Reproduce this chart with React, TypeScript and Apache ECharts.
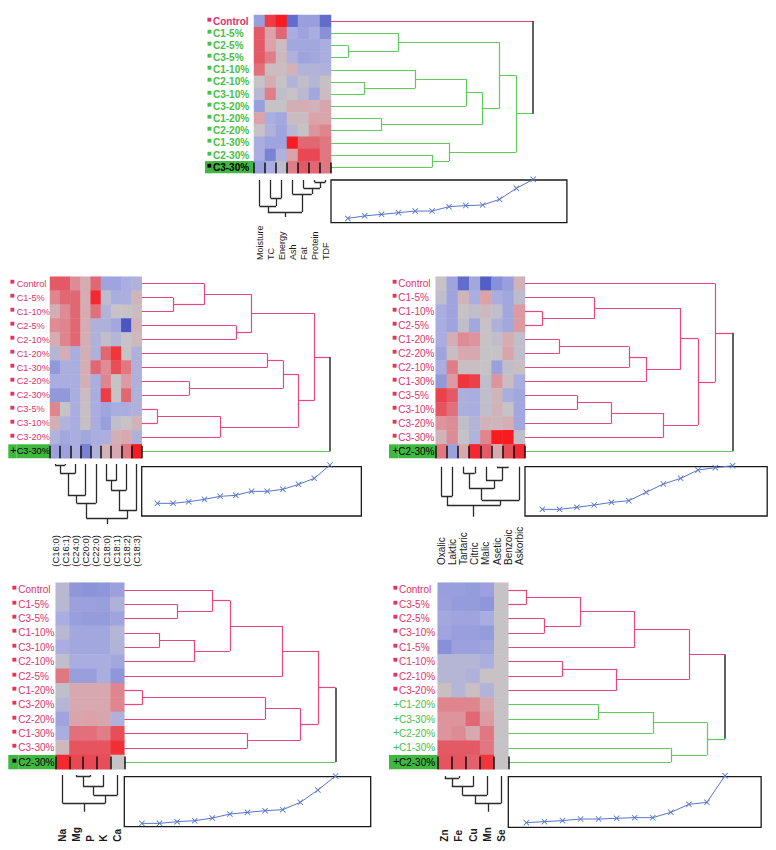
import React, { useEffect, useRef } from "react";
import * as echarts from "echarts";

const FONT = "Liberation Sans, Arial, sans-serif";
const PINK = "#e2336b";
const GREEN = "#46c046";
const LINE_PINK = "#e8467c";
const LINE_GREEN = "#5ccc5c";
const ROOT = "#3a3a3a";
const HIGHLIGHT = "#3fb83f";
const DIST_BLUE = "#5676c8";
const COL_TREE = "#2a2a2a";

// ---------------- Panel 1 : proximate composition ----------------
const P1_ROWS = ["Control", "C1-5%", "C2-5%", "C3-5%", "C1-10%", "C2-10%", "C3-10%", "C3-20%", "C1-20%", "C2-20%", "C1-30%", "C2-30%", "C3-30%"];
const P1_GROUPS = ["p", "g", "g", "g", "g", "g", "g", "g", "g", "g", "g", "g", "g"];
const P1_MARKS = ["■", "■", "■", "■", "■", "■", "■", "■", "■", "■", "■", "■", "■"];
const P1_HIGHLIGHT = 12;
const P1_COLS = ["Moisture", "TC", "Energy", "Ash", "Fat", "Protein", "TDF"];
const P1_VALUES = [
  [-1.5, 2.5, 3, -2.5, -1.5, -1.5, -2.5],
  [2, 1, 1.8, -1, -1.3, -1, -2],
  [2, 1, 0.2, -1.2, -1.2, -1.2, -1],
  [2, 1.5, 0.3, -0.8, -1.3, -1.2, -1],
  [1.7, 0.2, 0.2, 0.5, -0.7, -0.7, -0.8],
  [0, 0.7, 0, -0.7, -0.2, -0.6, 0.1],
  [-0.5, 1.5, -0.2, 0, -0.5, -1.2, 0.2],
  [-1.5, 0, 0, 0.6, 0.6, 0.5, 0.9],
  [1, -1, -1.2, 0.2, 0.2, 1, 0.9],
  [0, -0.8, -1.3, -0.5, 0, 1.2, 1.4],
  [-1, -1.3, -1.3, 3, 1.8, 1.8, 1.6],
  [-1, -2.2, -0.8, 1, 2.3, 2.3, 1.6],
  [-1.5, -1, -0.3, 1.5, 2, 1.8, 1.6],
];
const P1_ROW_MERGES = [[-3, -4], [-6, -7], [-9, -10], [-2, 1], [-5, 2], [-12, -13], [-11, 6], [5, -8], [8, 3], [4, 9], [10, 7], [-1, 11]];
const P1_COL_MERGES = [[-6, -7], [-5, 1], [-4, 2], [-2, -3], [-1, 4], [5, 3]];
const P1_COL_HEIGHTS = [2, 8, 14, 18, 26, 32];
const P1_COL_STEM = 37;
const P1_DIST = [10, 16, 19.5, 23.4, 27.3, 27.3, 37.5, 40, 41.4, 54.7, 80.5, 101.6];

// ---------------- Panel 2 : fatty acids ----------------
const P2_ROWS = ["Control", "C1-5%", "C1-10%", "C2-5%", "C2-10%", "C1-20%", "C1-30%", "C2-20%", "C2-30%", "C3-5%", "C3-10%", "C3-20%", "C3-30%"];
const P2_GROUPS = ["p", "p", "p", "p", "p", "p", "p", "p", "p", "p", "p", "p", "g"];
const P2_MARKS = ["■", "■", "■", "■", "■", "■", "■", "■", "■", "■", "■", "■", "+"];
const P2_HIGHLIGHT = 12;
const P2_COLS = ["(C16:0)", "(C16:1)", "(C24:0)", "(C20:0)", "(C22:0)", "(C18:0)", "(C18:1)", "(C18:2)", "(C18:3)"];
const P2_VALUES = [
  [2, 2, 1.3, 0.7, 1.8, -1.3, -1.3, -1, -0.8],
  [1.4, 1.8, 1.8, 0.7, 2.8, -0.3, -1, -0.9, 0.4],
  [0.6, 1.3, 1.8, 0.7, 1.7, -0.7, 0, 0, 0.2],
  [1.3, 1.4, 1.8, 0.7, -0.8, -0.8, -1.2, -2.8, 0.5],
  [0.7, 1.4, 1.8, 0.6, -0.8, -0.2, -0.6, 0, 0.3],
  [-0.6, 0.6, -1, 0.6, -0.8, 1.8, 2.6, 0, -0.8],
  [-1.7, -0.9, -1, 0.6, 1.8, 1.3, 2.2, 1.6, -0.8],
  [-1, -1, -1, 0.6, -1, 1.4, 0, 1.1, -0.8],
  [-1.7, -1.7, -1, 0.2, -1, 2.5, 0, 1.8, -0.8],
  [1.4, 0, -1, 0.1, -1, -1.3, -1, -1, -0.8],
  [0.6, -0.7, -1, 0.1, -1, -1.5, -0.2, 0, 0.5],
  [-0.7, -1.2, -1, -1.2, -1, -0.9, 0.6, 0.8, -0.8],
  [-1.4, -1.4, -0.9, -2.2, -0.8, 0.5, 0.8, 1.6, 3],
];
const P2_ROW_MERGES = [[-10, -11], [-2, -3], [-8, -9], [-1, 2], [1, -12], [-4, -5], [4, 6], [-6, -7], [8, 3], [9, 5], [7, 10], [11, -13]];
const P2_COL_MERGES = [[-1, -2], [1, -3], [-6, -7], [3, -8], [2, -4], [5, -5], [4, -9], [6, 7]];
const P2_COL_HEIGHTS = [1, 9.3, 16.7, 26, 31, 39.3, 46.7, 54.3];
const P2_COL_STEM = 60;
const P2_DIST = [25.7, 25.7, 29.1, 33.8, 39.9, 41.9, 50, 50, 54.1, 64.2, 76.4, 103.4];

// ---------------- Panel 3 : organic acids ----------------
const P3_ROWS = ["Control", "C1-5%", "C1-10%", "C2-5%", "C1-20%", "C2-20%", "C2-10%", "C1-30%", "C3-5%", "C3-10%", "C3-20%", "C3-30%", "C2-30%"];
const P3_GROUPS = ["p", "p", "p", "p", "p", "p", "p", "p", "p", "p", "p", "p", "g"];
const P3_MARKS = ["■", "■", "■", "■", "■", "■", "■", "■", "■", "■", "■", "■", "+"];
const P3_HIGHLIGHT = 12;
const P3_COLS = ["Oxalic", "Laktic", "Tartaric", "Citric", "Malic", "Asetic", "Benzoic", "Askorbic"];
const P3_VALUES = [
  [0, -1.3, -2.5, -1.2, -2.7, -2, -1.5, 0.5],
  [-0.2, -1.3, 0.4, -1, 1, -1, -1.2, -0.3],
  [-1, -1.3, 0, -0.2, 0.3, -0.2, -1.2, 1.1],
  [-1, -1.3, -0.2, -1.2, 0, -0.8, -1.2, 1.1],
  [-1, 0.6, 1.3, 1.2, 0, -0.2, 0.7, -0.2],
  [-1.3, 0.2, 0.8, 0.8, 0, 0, 0.9, -0.2],
  [-1, 1.5, 0.1, 0.1, 0, -1.4, -0.2, 0.1],
  [-1.7, 1.1, 2.6, 2.4, -0.2, 1.2, 0.2, -1],
  [2.4, 2, -0.9, -1, -0.2, 0.4, -1, -1.2],
  [2.1, 1.7, -0.9, -1, -0.2, 0.5, 0, -1.2],
  [1.2, 1.3, -0.2, -0.7, 0.5, 0.4, 0.6, -1.2],
  [0.5, 1.3, 0, -0.7, 1.4, 3, 3, -0.2],
  [1.6, -1.4, 0.8, 2.8, 2, 0.8, 2.2, 2.8],
];
const P3_ROW_MERGES = [[-3, -4], [-5, -6], [-9, -10], [-2, 1], [3, -11], [2, -7], [6, -8], [5, -12], [4, 7], [9, 8], [-1, 10], [11, -13]];
const P3_COL_MERGES = [[-6, -7], [-3, -4], [-5, 1], [2, 3], [-1, -2], [4, -8], [5, 6]];
const P3_COL_HEIGHTS = [0.7, 6.7, 13.3, 21.7, 29.3, 33.3, 38.3];
const P3_COL_STEM = 50;
const P3_DIST = [13.5, 13.5, 17.6, 22.3, 27.7, 31.1, 48, 64.9, 76.4, 93.2, 98, 102];

// ---------------- Panel 4 : macro minerals ----------------
const P4_ROWS = ["Control", "C1-5%", "C3-5%", "C1-10%", "C3-10%", "C2-10%", "C2-5%", "C1-20%", "C3-20%", "C2-20%", "C1-30%", "C3-30%", "C2-30%"];
const P4_GROUPS = ["p", "p", "p", "p", "p", "p", "p", "p", "p", "p", "p", "p", "g"];
const P4_MARKS = ["■", "■", "■", "■", "■", "■", "■", "■", "■", "■", "■", "■", "■"];
const P4_HIGHLIGHT = 12;
const P4_COLS = ["Na", "Mg", "P", "K", "Ca"];
const P4_VALUES = [
  [-0.5, -1.8, -1.9, -1.8, -1.4],
  [-0.5, -1.4, -1.4, -1.5, -0.8],
  [-1, -1.5, -1.6, -1.6, -1.3],
  [-0.5, -1.2, -1.2, -1.2, -0.6],
  [-1, -1.2, -1.2, -1.2, -0.7],
  [-0.2, -1, -1, -1, -1.2],
  [1.6, -1.5, -1.5, -1, -1.8],
  [-0.2, 0.8, 0.8, 0.8, 1.4],
  [-0.6, 0.8, 0.8, 0.8, 1.4],
  [-1.3, 0.9, 1, 0.9, -0.8],
  [-1, 1.7, 1.7, 1.5, 2.2],
  [0.3, 2.1, 2.1, 2.1, 2.7],
  [2.8, 2.3, 2.3, 2.2, 0],
];
const P4_ROW_MERGES = [[-8, -9], [-4, -5], [-2, -3], [2, -6], [-1, 3], [5, 4], [-11, -12], [1, -10], [6, -7], [8, 7], [9, 10], [11, -13]];
const P4_COL_MERGES = [[-2, -3], [1, -4], [2, -5], [-1, 3]];
const P4_COL_HEIGHTS = [1.7, 11.7, 20, 28.3];
const P4_COL_STEM = 36.7;
const P4_DIST = [6.7, 6.7, 10, 12, 17.3, 25.3, 28.7, 32, 34, 48.7, 73.3, 101.3];

// ---------------- Panel 5 : trace minerals ----------------
const P5_ROWS = ["Control", "C3-5%", "C2-5%", "C3-10%", "C1-5%", "C1-10%", "C2-10%", "C3-20%", "C1-20%", "C3-30%", "C2-20%", "C1-30%", "C2-30%"];
const P5_GROUPS = ["p", "p", "p", "p", "p", "p", "p", "p", "g", "g", "g", "g", "g"];
const P5_MARKS = ["■", "■", "■", "■", "■", "■", "■", "■", "+", "+", "+", "+", "+"];
const P5_HIGHLIGHT = 12;
const P5_COLS = ["Zn", "Fe", "Cu", "Mn", "Se"];
const P5_VALUES = [
  [-1.5, -1.5, -1.6, -1.4, 0],
  [-1.4, -1.6, -1.6, -1.8, 0],
  [-1.2, -1.3, -1.3, -1, 0],
  [-1.3, -1.5, -1.5, -1.6, 0],
  [-2, -1.4, -1.4, -1.3, 0],
  [-0.6, -0.6, -0.6, -0.9, 0],
  [-0.6, -0.6, -0.8, 0, 0],
  [0.1, -0.6, 0.1, -0.7, 0],
  [1.4, 1.4, 1.4, 0.9, 0],
  [1.2, 1.2, 1.8, 1.1, 0],
  [1.2, 1.3, 0.8, 1.6, 0],
  [2, 2, 2, 1.6, 0],
  [2.1, 2.1, 1.9, 2.6, 0],
];
const P5_ROW_MERGES = [[-1, -2], [-3, -4], [-6, -7], [1, 2], [-9, -10], [3, -8], [4, -5], [5, -11], [-12, -13], [7, 6], [8, 9], [10, 11]];
const P5_COL_MERGES = [[-1, -2], [1, -3], [2, -4], [3, -5]];
const P5_COL_HEIGHTS = [2.3, 10.7, 19, 27.3];
const P5_COL_STEM = 35.7;
const P5_DIST = [9.2, 11.2, 13.2, 16.4, 16.4, 17.8, 19.1, 19.1, 29.6, 45.4, 49.3, 102];

const PANELS = [
  { rows: P1_ROWS, groups: P1_GROUPS, marks: P1_MARKS, highlight: P1_HIGHLIGHT, cols: P1_COLS, values: P1_VALUES, rowMerges: P1_ROW_MERGES, colMerges: P1_COL_MERGES, colHeights: P1_COL_HEIGHTS, colStem: P1_COL_STEM, dist: P1_DIST },
  { rows: P2_ROWS, groups: P2_GROUPS, marks: P2_MARKS, highlight: P2_HIGHLIGHT, cols: P2_COLS, values: P2_VALUES, rowMerges: P2_ROW_MERGES, colMerges: P2_COL_MERGES, colHeights: P2_COL_HEIGHTS, colStem: P2_COL_STEM, dist: P2_DIST },
  { rows: P3_ROWS, groups: P3_GROUPS, marks: P3_MARKS, highlight: P3_HIGHLIGHT, cols: P3_COLS, values: P3_VALUES, rowMerges: P3_ROW_MERGES, colMerges: P3_COL_MERGES, colHeights: P3_COL_HEIGHTS, colStem: P3_COL_STEM, dist: P3_DIST },
  { rows: P4_ROWS, groups: P4_GROUPS, marks: P4_MARKS, highlight: P4_HIGHLIGHT, cols: P4_COLS, values: P4_VALUES, rowMerges: P4_ROW_MERGES, colMerges: P4_COL_MERGES, colHeights: P4_COL_HEIGHTS, colStem: P4_COL_STEM, dist: P4_DIST },
  { rows: P5_ROWS, groups: P5_GROUPS, marks: P5_MARKS, highlight: P5_HIGHLIGHT, cols: P5_COLS, values: P5_VALUES, rowMerges: P5_ROW_MERGES, colMerges: P5_COL_MERGES, colHeights: P5_COL_HEIGHTS, colStem: P5_COL_STEM, dist: P5_DIST },
];

// ---------------- layout (positions only) ----------------
const LAYOUT = [
  { boxL: 205, markX: 207, textX: 213, hmL: 254, hmR: 331, hmT: 15, hmB: 173.3, step: 16.85, cdTop: 180, lnTop: 180, lnH: 42.7, lblB: 260, rowFs: 10, rowFw: "bold", colFs: 9, colFw: "normal" },
  { boxL: 8.3, markX: 10, textX: 16.7, hmL: 50, hmR: 141.7, hmT: 276.7, hmB: 458.3, step: 15.69, cdTop: 464, lnTop: 466.7, lnH: 49.3, lblB: 566.7, rowFs: 9.2, rowFw: "normal", colFs: 9.5, colFw: "normal" },
  { boxL: 389, markX: 392.3, textX: 398.3, hmL: 435.7, hmR: 525, hmT: 276.7, hmB: 458.3, step: 17.3, cdTop: 466.7, lnTop: 466.7, lnH: 49.3, lblB: 565, rowFs: 10, rowFw: "normal", colFs: 10, colFw: "normal" },
  { boxL: 8.3, markX: 12, textX: 18.3, hmL: 55.7, hmR: 124.3, hmT: 582.7, hmB: 769.3, step: 17.6, cdTop: 775, lnTop: 776.7, lnH: 50, lblB: 841.7, rowFs: 10, rowFw: "normal", colFs: 10, colFw: "bold" },
  { boxL: 389, markX: 393, textX: 399, hmL: 437.7, hmR: 508.3, hmT: 582.7, hmB: 769.3, step: 18.06, cdTop: 776, lnTop: 776.7, lnH: 50.6, lblB: 841.7, rowFs: 10, rowFw: "normal", colFs: 10, colFw: "bold" },
];

const LINE_COLOR: Record<string, string> = { p: LINE_PINK, g: LINE_GREEN, k: ROOT };
const TEXT_COLOR: Record<string, string> = { p: PINK, g: GREEN, k: "#000" };

function rowTree(merges: number[][], groups: string[]) {
  const clusters: { y: number; h: number; c: string }[] = [];
  const info = (ref: number) => (ref < 0 ? { y: -ref - 1, h: 0, c: groups[-ref - 1] } : clusters[ref - 1]);
  const segs: any[] = [];
  merges.forEach((m, k) => {
    const a = info(m[0]);
    const b = info(m[1]);
    const h = k + 1; // merge step
    const c = a.c === b.c ? a.c : "k";
    segs.push({ coords: [[a.h, a.y], [h, a.y]], lineStyle: { color: LINE_COLOR[a.c] } });
    segs.push({ coords: [[b.h, b.y], [h, b.y]], lineStyle: { color: LINE_COLOR[b.c] } });
    segs.push({ coords: [[h, a.y], [h, b.y]], lineStyle: { color: LINE_COLOR[c], width: c === "k" ? 1.6 : 1.2 } });
    clusters.push({ y: (a.y + b.y) / 2, h, c });
  });
  return segs;
}

function colTree(merges: number[][], heights: number[], stem: number) {
  const clusters: { x: number; h: number }[] = [];
  const info = (ref: number) => (ref < 0 ? { x: -ref - 1, h: 0 } : clusters[ref - 1]);
  const segs: any[] = [];
  merges.forEach((m, k) => {
    const a = info(m[0]);
    const b = info(m[1]);
    const h = heights[k];
    segs.push({ coords: [[a.x, a.h], [a.x, h]] });
    segs.push({ coords: [[b.x, b.h], [b.x, h]] });
    segs.push({ coords: [[a.x, h], [b.x, h]] });
    clusters.push({ x: (a.x + b.x) / 2, h });
  });
  const root = clusters[clusters.length - 1];
  segs.push({ coords: [[root.x, root.h], [root.x, stem]] });
  return segs;
}

function buildOption() {
  const grid: any[] = [];
  const xAxis: any[] = [];
  const yAxis: any[] = [];
  const series: any[] = [];
  const hmSeries: number[] = [];

  PANELS.forEach((p, pi) => {
    const L = LAYOUT[pi];
    const nR = p.rows.length;
    const nC = p.cols.length;
    const rowH = (L.hmB - L.hmT) / nR;
    const nM = p.rowMerges.length;

    // heatmap grid
    const gi = grid.length;
    grid.push({ left: L.hmL, top: L.hmT, width: L.hmR - L.hmL, height: L.hmB - L.hmT, outerBoundsMode: "none" });
    const xi = xAxis.length;
    xAxis.push({
      gridIndex: gi, type: "category", data: p.cols, position: "bottom", z: 10,
      axisLine: { show: false },
      axisTick: { show: true, inside: true, interval: 0, length: rowH - 1.5, lineStyle: { color: "#111", width: 1.5 } },
      splitLine: { show: false },
      axisLabel: {
        interval: 0, rotate: 90, align: "left", verticalAlign: "middle",
        margin: L.lblB - L.hmB, fontSize: L.colFs, fontWeight: L.colFw, color: "#1a1a1a", fontFamily: FONT,
      },
    });
    const padL = L.markX - L.boxL;
    const mW = L.textX - L.markX;
    const rich: any = {};
    ["p", "g", "k"].forEach((c) => {
      const bg = c === "k" ? HIGHLIGHT : undefined;
      rich["s" + c] = {
        color: TEXT_COLOR[c], fontSize: 5, fontFamily: "DejaVu Sans", width: mW, align: "left",
        height: rowH - 5, lineHeight: rowH - 5, padding: [0, 0, 5, padL], backgroundColor: bg,
      };
      rich["q" + c] = {
        color: TEXT_COLOR[c], fontSize: 11, fontFamily: FONT, width: mW, align: "left",
        height: rowH - 2, lineHeight: rowH - 2, padding: [0, 0, 2, padL], backgroundColor: bg,
      };
      rich["t" + c] = {
        color: TEXT_COLOR[c], fontSize: L.rowFs, fontWeight: L.rowFw, fontFamily: FONT, align: "left",
        height: rowH, lineHeight: rowH, backgroundColor: bg, width: c === "k" ? L.hmL - L.textX : undefined,
      };
    });
    const yi = yAxis.length;
    yAxis.push({
      gridIndex: gi, type: "category", data: p.rows, inverse: true,
      axisLine: { show: false }, axisTick: { show: false }, splitLine: { show: false },
      axisLabel: {
        interval: 0, align: "left", verticalAlign: "middle", margin: L.hmL - L.boxL,
        formatter: (value: string, index: number) => {
          const c = index === p.highlight ? "k" : p.groups[index];
          const mk = p.marks[index] === "+" ? "q" : "s";
          return `{${mk}${c}|${p.marks[index]}}{t${c}|${value}}`;
        },
        rich,
      },
    });
    const data: number[][] = [];
    p.values.forEach((row, r) => row.forEach((v, c) => data.push([c, r, v])));
    hmSeries.push(series.length);
    series.push({ type: "heatmap", xAxisIndex: xi, yAxisIndex: yi, data, itemStyle: { borderWidth: 0 }, emphasis: { disabled: true }, silent: true, progressive: 0 });

    // row dendrogram
    const gr = grid.length;
    grid.push({ left: L.hmR, top: L.hmT, width: nM * L.step, height: L.hmB - L.hmT, outerBoundsMode: "none" });
    xAxis.push({ gridIndex: gr, type: "value", min: 0, max: nM, show: false });
    yAxis.push({ gridIndex: gr, type: "value", min: -0.5, max: nR - 0.5, inverse: true, show: false });
    series.push({
      type: "lines", coordinateSystem: "cartesian2d", xAxisIndex: xAxis.length - 1, yAxisIndex: yAxis.length - 1,
      data: rowTree(p.rowMerges, p.groups), lineStyle: { width: 1.2, opacity: 1 }, silent: true,
    });

    // column dendrogram
    const gc = grid.length;
    grid.push({ left: L.hmL, top: L.cdTop, width: L.hmR - L.hmL, height: p.colStem, outerBoundsMode: "none" });
    xAxis.push({ gridIndex: gc, type: "value", min: -0.5, max: nC - 0.5, show: false });
    yAxis.push({ gridIndex: gc, type: "value", min: 0, max: p.colStem, inverse: true, show: false });
    series.push({
      type: "lines", coordinateSystem: "cartesian2d", xAxisIndex: xAxis.length - 1, yAxisIndex: yAxis.length - 1,
      data: colTree(p.colMerges, p.colHeights, p.colStem), lineStyle: { width: 1.3, opacity: 1, color: COL_TREE }, silent: true,
    });

    // distance plot
    const gl = grid.length;
    grid.push({ left: L.hmR, top: L.lnTop, width: 14 * L.step, height: L.lnH, show: true, borderColor: "#1a1a1a", borderWidth: 1.3, backgroundColor: "transparent", outerBoundsMode: "none" });
    xAxis.push({ gridIndex: gl, type: "value", min: 0, max: 14, show: false });
    yAxis.push({ gridIndex: gl, type: "value", min: 0, max: 100, show: false });
    series.push({
      type: "line", xAxisIndex: xAxis.length - 1, yAxisIndex: yAxis.length - 1,
      data: p.dist.map((d, i) => [i + 1, d]), clip: false, silent: true,
      symbol: "path://M1,0L5,4L9,0L10,1L6,5L10,9L9,10L5,6L1,10L0,9L4,5L0,1Z", symbolSize: 6,
      lineStyle: { color: DIST_BLUE, width: 1 }, itemStyle: { color: DIST_BLUE },
    });
  });

  return {
    animation: false,
    backgroundColor: "#ffffff",
    textStyle: { fontFamily: FONT },
    grid, xAxis, yAxis, series,
    visualMap: {
      type: "continuous", show: false, min: -3, max: 3, dimension: 2, seriesIndex: hmSeries,
      inRange: { color: ["#3c48bf", "#8890d8", "#a9ade0", "#c6c2c6", "#dba2a9", "#e35a66", "#f81c22"] },
    },
  };
}

export default function App() {
  const ref = useRef<HTMLDivElement>(null);
  useEffect(() => {
    const chart = echarts.init(ref.current!, null, { renderer: "svg" });
    chart.setOption(buildOption() as any);
    return () => chart.dispose();
  }, []);
  return <div ref={ref} style={{ position: "absolute", left: 0, top: 0, width: 776, height: 850 }} />;
}
